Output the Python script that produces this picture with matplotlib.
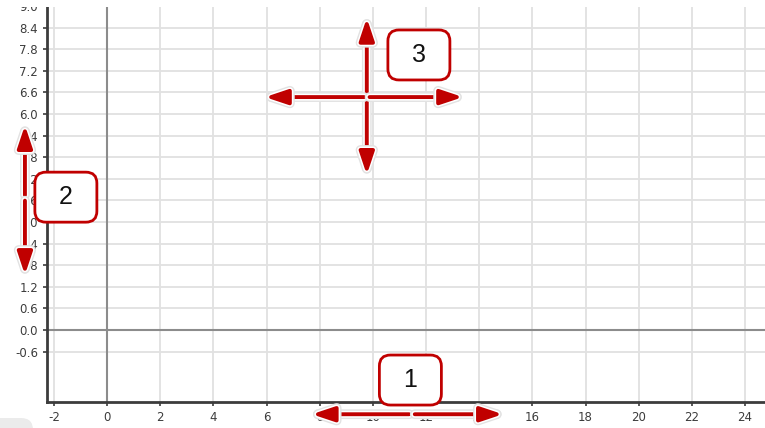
import matplotlib
matplotlib.use("Agg")
import matplotlib.pyplot as plt
import matplotlib.patheffects as pe
import matplotlib.transforms as mtransforms
from matplotlib.patches import FancyBboxPatch, Rectangle

# axis ticks
x_ticks = [-2, 0, 2, 4, 6, 8, 10, 12, 14, 16, 18, 20, 22, 24]
y_ticks = [-0.6, 0.0, 0.6, 1.2, 1.8, 2.4, 3.0, 3.6, 4.2, 4.8, 5.4,
           6.0, 6.6, 7.2, 7.8, 8.4, 9.0]
callout_labels = ["1", "2", "3"]

RED = "#c00000"
TICK_COLOR = "#3c3c3c"

fig = plt.figure(figsize=(7.65, 4.28), dpi=100)
ax = fig.add_axes([47 / 765, 26 / 428, 718 / 765, 396 / 428])
ax.set_xlim(-2.26, 24.75)
ax.set_ylim(-2.0, 9.0)

ax.set_xticks(x_ticks)
ax.set_yticks(y_ticks)
ax.set_xticklabels([str(v) for v in x_ticks])
ax.set_yticklabels([f"{v:.1f}" for v in y_ticks])
ax.set_axisbelow(True)
ax.grid(True, color="#e1e1e1", lw=1.3)
ax.axvline(0, color="#8c8c8c", lw=1.5, zorder=1.5)
ax.axhline(0, color="#8c8c8c", lw=1.5, zorder=1.5)

for side in ["top", "right"]:
    ax.spines[side].set_visible(False)
for side in ["left", "bottom"]:
    ax.spines[side].set_color(TICK_COLOR)
    ax.spines[side].set_linewidth(2)
ax.tick_params(length=3, width=1.2, color=TICK_COLOR, labelsize=8.5,
               labelcolor=TICK_COLOR)
ax.tick_params(axis="x", pad=3.5)
ax.tick_params(axis="y", pad=3.5)

# callouts: double arrows split at a centre point, plus a numbered box
glow = [pe.Stroke(linewidth=7, foreground="#e2e2e2"),
        pe.Stroke(linewidth=5, foreground="white"),
        pe.Normal()]


def arrow(center, end):
    ax.annotate("", xy=end, xytext=center, annotation_clip=False, zorder=10,
                arrowprops=dict(arrowstyle="-|>,head_length=1.35,head_width=0.45",
                                color=RED, lw=2.8, shrinkA=2, shrinkB=0,
                                mutation_scale=10, path_effects=glow))


def box(label, cx, cy):
    trans = mtransforms.IdentityTransform() + \
        mtransforms.ScaledTranslation(cx, cy, ax.transData)
    p = FancyBboxPatch((-31, -25), 62, 50,
                       boxstyle="round,pad=0,rounding_size=11",
                       fc="white", ec=RED, lw=2, transform=trans,
                       zorder=11, clip_on=False)
    ax.add_artist(p)
    ax.text(cx, cy, label, ha="center", va="center", fontsize=18,
            family="Liberation Sans", color="#111111", zorder=12)


# 1: horizontal, over the x axis labels
arrow((11.47, -2.34), (7.70, -2.34))
arrow((11.47, -2.34), (14.89, -2.34))
box(callout_labels[0], 11.41, -1.39)

# 2: vertical, over the y axis labels
arrow((-3.09, 3.67), (-3.09, 5.69))
arrow((-3.09, 3.67), (-3.09, 1.53))
box(callout_labels[1], -1.55, 3.69)

# 3: cross in the plot area
arrow((9.77, 6.47), (9.77, 8.67))
arrow((9.77, 6.47), (9.77, 4.31))
arrow((9.77, 6.47), (5.94, 6.47))
arrow((9.77, 6.47), (13.39, 6.47))
box(callout_labels[2], 11.73, 7.64)

# screenshot crop: top strip cut off, grey scrap in the bottom-left corner
fig.add_artist(Rectangle((0, 421), 765, 10, fc="white", ec="none",
                         transform=mtransforms.IdentityTransform(), zorder=20))
fig.add_artist(FancyBboxPatch((-20, -20), 53, 30,
                              boxstyle="round,pad=0,rounding_size=12",
                              fc="#ebebeb", ec="none",
                              transform=mtransforms.IdentityTransform()))

fig.savefig("out.png", dpi=100)
